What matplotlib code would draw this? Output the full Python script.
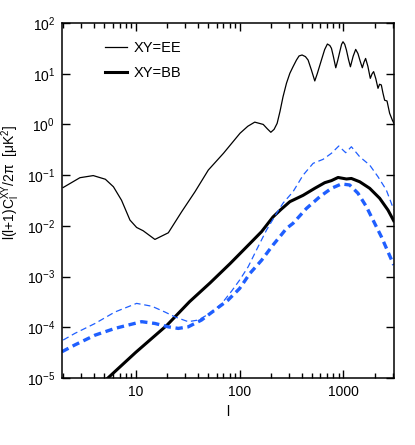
import numpy as np
import matplotlib
matplotlib.use("Agg")
import matplotlib.pyplot as plt
from matplotlib.ticker import LogLocator, FixedLocator, FixedFormatter, NullFormatter

plt.rcParams['font.family'] = ['Liberation Sans', 'DejaVu Sans']
plt.rcParams['mathtext.fontset'] = 'custom'
plt.rcParams['mathtext.rm'] = 'Liberation Sans'
plt.rcParams['mathtext.it'] = 'Liberation Sans:italic'
plt.rcParams['mathtext.default'] = 'regular'

# --- data ---
ell_ee = [2, 2.9, 3.9, 5.1, 6.1, 7.3, 8.8, 10.2, 11.8, 15.3, 20.6, 27.7, 37.2,
          50, 70, 101, 120, 140, 169, 185, 200, 215, 230, 245, 262, 283, 305,
          327, 353, 374, 400, 431, 457, 492, 530, 560, 614, 660, 701, 740, 767,
          800, 844, 880, 922, 960, 991, 1030, 1069, 1120, 1168, 1240, 1313,
          1380, 1455, 1521, 1580, 1636, 1720, 1815, 1890, 1954, 2050, 2153,
          2230, 2318, 2400, 2495, 2630, 2786, 2958, 3050]
cl_ee = [0.057, 0.089, 0.098, 0.083, 0.059, 0.032, 0.013, 0.0093, 0.008,
         0.0054, 0.0073, 0.019, 0.047, 0.126, 0.27, 0.67, 0.92, 1.11, 1.0,
         0.82, 0.7, 0.8, 1.05, 1.8, 3.5, 6.5, 10.2, 13.7, 18.6, 22.4, 23.4,
         21.7, 18.6, 11.8, 7.2, 10, 18.6, 30, 38.5, 36, 31.7, 22, 13.1, 18,
         27, 38, 42.7, 38, 29.3, 19, 13.7, 22, 30.2, 25, 17.3, 13.1, 17, 20,
         14, 8.1, 10, 11, 8, 5.15, 6.2, 6.0, 4.2, 3.0, 2.9, 1.66, 1.22, 1.07]

ell_bb = [4, 5.4, 10, 20, 33, 52, 81, 126, 163, 210, 250, 305, 409, 530,
          661, 767, 888, 1069, 1193, 1436, 1791, 2234, 2685, 3050]
cl_bb = [5.5e-6, 1e-5, 3.2e-5, 1.1e-4, 3.2e-4, 7.5e-4, 1.8e-3, 4.5e-3,
         7.7e-3, 0.015, 0.021, 0.030, 0.040, 0.055, 0.071, 0.078, 0.09,
         0.084, 0.086, 0.074, 0.055, 0.035, 0.0205, 0.0126]

ell_blue_thin = [2, 2.6, 4.06, 6.3, 10.2, 14.3, 19.1, 23.9, 32, 40, 51.8, 67,
                 84, 100, 121, 151, 182, 227, 262, 327, 409, 511, 637, 767,
                 902, 1052, 1193, 1436, 1791, 2153, 2588, 3050]
cl_blue_thin = [5.6e-5, 7.6e-5, 1.19e-4, 2.0e-4, 2.96e-4, 2.6e-4, 2.0e-4,
                1.6e-4, 1.29e-4, 1.39e-4, 1.88e-4, 2.9e-4, 5.2e-4, 8.5e-4,
                1.56e-3, 3.9e-3, 8.3e-3, 0.0176, 0.028, 0.047, 0.1, 0.171,
                0.205, 0.27, 0.375, 0.277, 0.363, 0.23, 0.158, 0.093, 0.051,
                0.021]

ell_blue_thick = [1.95, 2.6, 4.06, 6.3, 11.4, 15.3, 20.6, 25.7, 32, 43, 58,
                  77, 100, 126, 163, 210, 244, 283, 327, 440, 592, 767, 957,
                  1148, 1380, 1663, 2000, 2320, 3050]
cl_blue_thick = [3.3e-5, 4.5e-5, 7.0e-5, 9.5e-5, 1.29e-4, 1.19e-4, 1.02e-4,
                 9.5e-5, 1.02e-4, 1.39e-4, 2.2e-4, 3.4e-4, 5.8e-4, 1.16e-3,
                 2.1e-3, 4.2e-3, 6.1e-3, 8.9e-3, 0.0112, 0.022, 0.0375, 0.055,
                 0.067, 0.064, 0.044, 0.024, 0.0112, 0.0061, 0.0017]

xticks = [10, 100, 1000]
xticklabels = ['10', '100', '1000']
yticks = [1e-5, 1e-4, 1e-3, 1e-2, 1e-1, 1e0, 1e1, 1e2]
yticklabels = [r'$10^{-5}$', r'$10^{-4}$', r'$10^{-3}$', r'$10^{-2}$',
               r'$10^{-1}$', r'$10^{0}$', r'$10^{1}$', r'$10^{2}$']

blue = '#1f5fff'

fig = plt.figure(figsize=(4.15, 4.45), dpi=100)
ax = fig.add_axes([62/415, 1-378/445, 332/415, 355/445])

ax.plot(ell_ee, cl_ee, color='black', lw=0.9, label='XY=EE')
ax.plot(ell_bb, cl_bb, color='black', lw=2.2, label='XY=BB')
ax.plot(ell_blue_thin, cl_blue_thin, color=blue, lw=0.9, dashes=(5, 3))
ax.plot(ell_blue_thick, cl_blue_thick, color=blue, lw=2.4, dashes=(2.2, 1.4))

ax.set_xscale('log')
ax.set_yscale('log')
ax.set_xlim(1.95, 3070)
ax.set_ylim(1e-5, 1e2)

ax.xaxis.set_major_locator(FixedLocator(xticks))
ax.xaxis.set_major_formatter(FixedFormatter(xticklabels))
ax.xaxis.set_minor_locator(LogLocator(base=10, subs=np.arange(2, 10)))
ax.xaxis.set_minor_formatter(NullFormatter())
ax.yaxis.set_major_locator(FixedLocator(yticks))
ax.yaxis.set_major_formatter(FixedFormatter(yticklabels))
ax.yaxis.set_minor_locator(FixedLocator([]))

ax.tick_params(which='both', direction='in', top=True, right=True,
               labelsize=10, width=1.0, colors='black')
ax.tick_params(which='major', length=6, pad=5)
ax.tick_params(which='minor', length=3.5)
for s in ax.spines.values():
    s.set_linewidth(1.1)

ax.set_xlabel('l', fontsize=10, labelpad=4)
ax.set_ylabel(r'l(l+1)C$_l^{XY}$/2$\pi$  [$\mu$K$^2$]', fontsize=10)
ax.yaxis.set_label_coords(-0.12, 0.55)

leg = ax.legend(loc='upper left', bbox_to_anchor=(0.09, 0.985), frameon=False,
                fontsize=10.5, handlelength=1.5, handletextpad=0.5,
                labelspacing=0.7)

fig.savefig('out.png', dpi=100)
